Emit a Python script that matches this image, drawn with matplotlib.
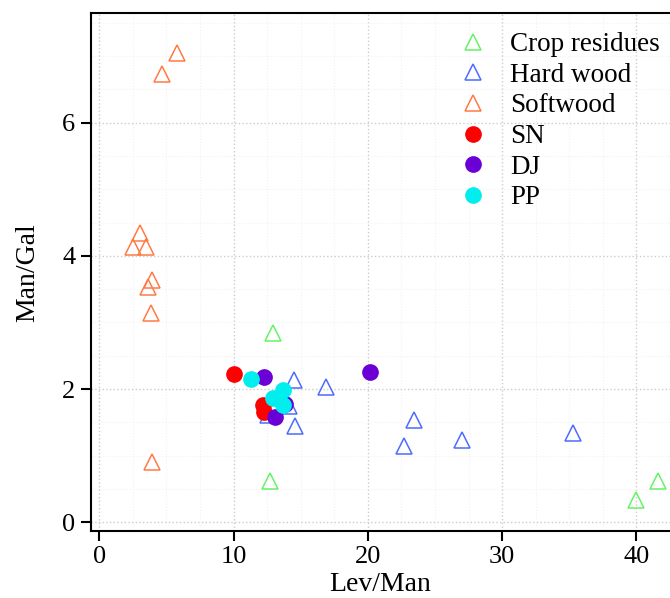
import matplotlib
matplotlib.use('Agg')
import matplotlib.pyplot as plt
from matplotlib.ticker import MultipleLocator

plt.rcParams['font.family'] = ['Liberation Serif', 'DejaVu Serif']

# Lev/Man , Man/Gal
crop_x = [12.9, 12.7, 40.0, 41.6]
crop_y = [2.84, 0.62, 0.33, 0.62]

hard_x = [14.5, 16.9, 14.1, 12.6, 14.6, 23.4, 22.7, 27.0, 35.3]
hard_y = [2.14, 2.03, 1.74, 1.61, 1.44, 1.54, 1.14, 1.24, 1.34]

soft_x = [5.8, 4.7, 3.0, 2.5, 3.5, 3.9, 3.65, 3.85, 3.9]
soft_y = [7.04, 6.73, 4.34, 4.13, 4.13, 3.64, 3.53, 3.14, 0.90]

sn_x = [10.05, 12.2, 12.25]
sn_y = [2.22, 1.76, 1.66]

dj_x = [12.26, 13.8, 13.08, 20.17]
dj_y = [2.18, 1.78, 1.58, 2.26]

pp_x = [11.27, 13.7, 12.96, 13.7]
pp_y = [2.15, 1.99, 1.86, 1.76]

fig = plt.figure(figsize=(6.7, 5.98), dpi=100)
ax = fig.add_axes([90.7/670, 67/598, 1 - 90.7/670, (531-13.3)/598])

tri = dict(marker='^', linestyle='none', markersize=11.5, markerfacecolor='none', markeredgewidth=1.1)
ax.plot(crop_x, crop_y, color='#66f266', label='Crop residues', **tri)
ax.plot(hard_x, hard_y, color='#4d6bff', label='Hard wood', **tri)
ax.plot(soft_x, soft_y, color='#ff7a45', label='Softwood', **tri)

dot = dict(marker='o', linestyle='none', markersize=11)
ax.plot(sn_x, sn_y, color='#ff0000', label='SN', **dot)
ax.plot(dj_x, dj_y, color='#6a00d6', label='DJ', **dot)
ax.plot(pp_x, pp_y, color='#00eeee', label='PP', **dot)

ax.set_xlim(-0.64, 42.5)
ax.set_ylim(-0.13, 7.64)
ax.xaxis.set_major_locator(MultipleLocator(10))
ax.yaxis.set_major_locator(MultipleLocator(2))
ax.xaxis.set_minor_locator(MultipleLocator(2.5))
ax.yaxis.set_minor_locator(MultipleLocator(0.5))

ax.grid(True, which='major', color='#cccccc', linestyle=':', linewidth=1)
ax.grid(True, which='minor', color='#f2f2f2', linestyle=':', linewidth=0.8)
ax.set_axisbelow(True)

ax.spines['right'].set_visible(False)
for s in ['left', 'bottom', 'top']:
    ax.spines[s].set_linewidth(1.5)

ax.tick_params(which='major', direction='out', length=7, width=1.5, labelsize=19, pad=4)
ax.tick_params(which='minor', length=0)

ax.set_xlabel('Lev/Man', fontsize=20, labelpad=3)
ax.set_ylabel('Man/Gal', fontsize=20, labelpad=16)

ax.legend(loc='upper left', bbox_to_anchor=(456.7/670, 1 - 32/598), bbox_transform=fig.transFigure,
          frameon=False, fontsize=19.5, borderpad=0, borderaxespad=0,
          handlelength=1.2, handletextpad=0.76, labelspacing=0.21)

fig.savefig('out.png', dpi=100)
